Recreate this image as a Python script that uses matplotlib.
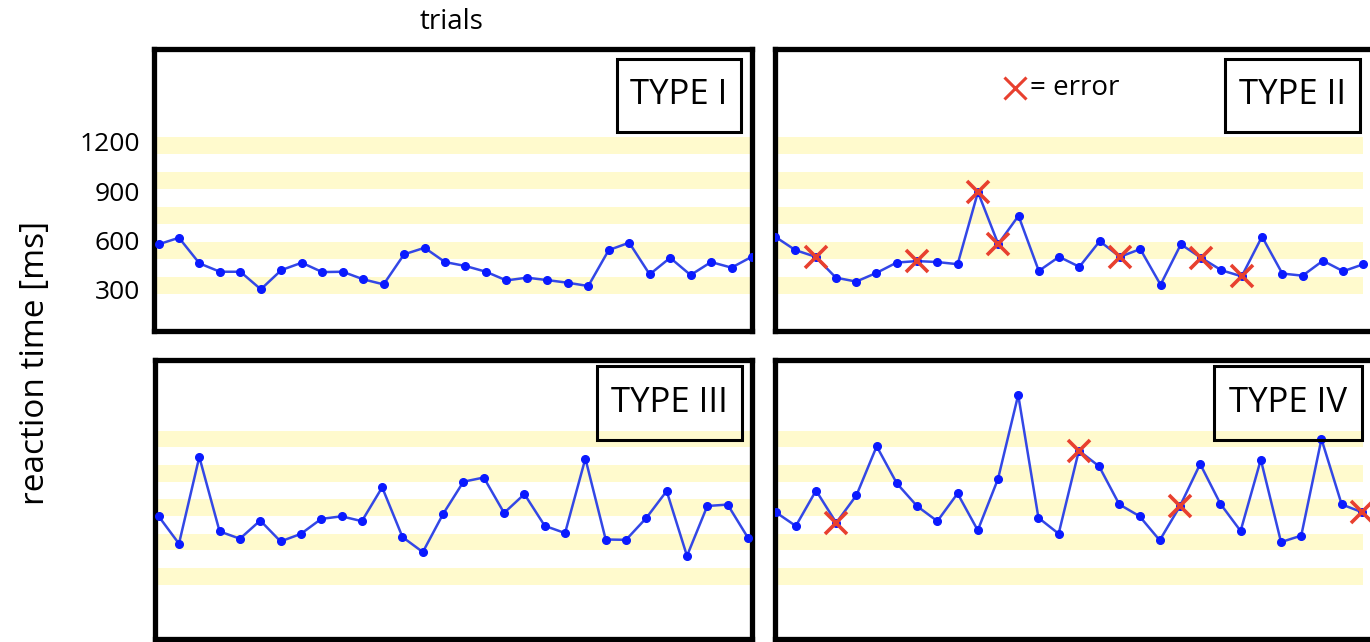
import numpy as np
import matplotlib
matplotlib.use("Agg")
import matplotlib.pyplot as plt
from matplotlib.patches import Rectangle

plt.rcParams['font.family'] = ['Open Sans', 'DejaVu Sans']

# reaction times per trial (ms)
trials = np.arange(30)
rt_type1 = [576, 616, 460, 409, 409, 302, 419, 464, 407, 409, 363, 332, 515, 555, 468,
            444, 409, 356, 373, 358, 342, 322, 541, 586, 393, 494, 389, 468, 434, 501]
rt_type2 = [623, 541, 500, 373, 349, 402, 465, 474, 468, 455, 894, 578, 750, 414, 500,
            439, 595, 500, 547, 330, 576, 494, 418, 381, 623, 398, 385, 476, 412, 455]
rt_type3 = [696, 526, 1065, 602, 557, 670, 540, 587, 680, 696, 666, 876, 567, 474, 711,
            911, 937, 717, 834, 637, 592, 1055, 552, 550, 686, 853, 450, 760, 769, 563]
rt_type4 = [722, 636, 856, 656, 827, 1131, 900, 759, 666, 838, 609, 928, 1450, 687, 588,
            1104, 1007, 770, 697, 547, 759, 1021, 774, 605, 1048, 536, 576, 1176, 770, 722]
err_type2 = [2, 7, 10, 11, 17, 21, 23]
err_type4 = [3, 15, 20, 29]
panel_names = ["TYPE I", "TYPE II", "TYPE III", "TYPE IV"]
band_centers = [324, 537, 750, 963, 1176]
band_width = 104
yticks = [300, 600, 900, 1200]

W, H = 1370, 642
fig = plt.figure(figsize=(W / 100, H / 100), dpi=100)


def px_axes(x0, y0, x1, y1):
    return fig.add_axes([x0 / W, 1 - y1 / H, (x1 - x0) / W, (y1 - y0) / H])


# pixel frames of the four panels, then x/y limits in data units
frames = [(154, 49, 752, 331), (775, 49, 1372, 331),
          (155, 360, 752, 639), (775, 360, 1372, 639)]
xlims = [(-0.22, 29.0), (0.0, 29.42), (-0.18, 29.2), (-0.03, 29.5)]
ylims = [(48, 1766), (48, 1766), (-66, 1667), (-66, 1667)]
band_xmax = [1.0, 0.985, 1.0, 0.985]
series = [rt_type1, rt_type2, rt_type3, rt_type4]
errors = [[], err_type2, [], err_type4]
boxes = [(617, 59, 741, 132), (1225, 59, 1360, 132),
         (597, 366, 742, 440), (1214, 366, 1362, 440)]

axes = []
for i in range(4):
    ax = px_axes(*frames[i])
    axes.append(ax)
    ax.set_xlim(*xlims[i])
    ax.set_ylim(*ylims[i])
    for c in band_centers:
        ax.axhspan(c - band_width / 2, c + band_width / 2, xmax=band_xmax[i],
                   color='#fffacd', lw=0, zorder=0)
    rt = series[i]
    ax.plot(trials, rt, color='#3347e6', lw=1.8, marker='o', ms=5.5,
            mfc='#0a1aff', mec='#0a1aff', zorder=3)
    if errors[i]:
        ax.plot([trials[k] for k in errors[i]], [rt[k] for k in errors[i]],
                ls='none', marker='x', ms=16, mew=2.6, color='#e8402f', zorder=4)
    for s in ax.spines.values():
        s.set_linewidth(3.8)
        s.set_color('black')
    ax.set_xticks([])
    ax.set_yticks([])

    # label box in the top right corner
    bx0, by0, bx1, by1 = boxes[i]
    fx0, fy0 = bx0 / W, 1 - by1 / H
    fig.patches.append(Rectangle((fx0, fy0), (bx1 - bx0) / W, (by1 - by0) / H,
                                 transform=fig.transFigure, fill=False,
                                 ec='black', lw=2.2, zorder=5))
    fig.text((bx0 + bx1) / 2 / W, 1 - (by0 + by1) / 2 / H, panel_names[i],
             ha='center', va='center', fontsize=25, zorder=6)

axes[0].set_yticks(yticks)
axes[0].set_yticklabels([str(v) for v in yticks], fontsize=19)
axes[0].tick_params(axis='y', length=0, pad=10)

# error legend in panel 2
fig.lines.append(plt.Line2D([1015 / W], [1 - 88 / H], transform=fig.transFigure,
                            marker='x', ms=16, mew=2.2, color='#e8402f', ls='none'))
fig.text(1030 / W, 1 - 88 / H, "= error", ha='left', va='center', fontsize=20)

fig.text(452 / W, 1 - 22 / H, "trials", ha='center', va='center', fontsize=20)
fig.text(36 / W, 1 - 363 / H, "reaction time [ms]", ha='center', va='center',
         rotation=90, fontsize=24)

fig.savefig("out.png", dpi=100)
